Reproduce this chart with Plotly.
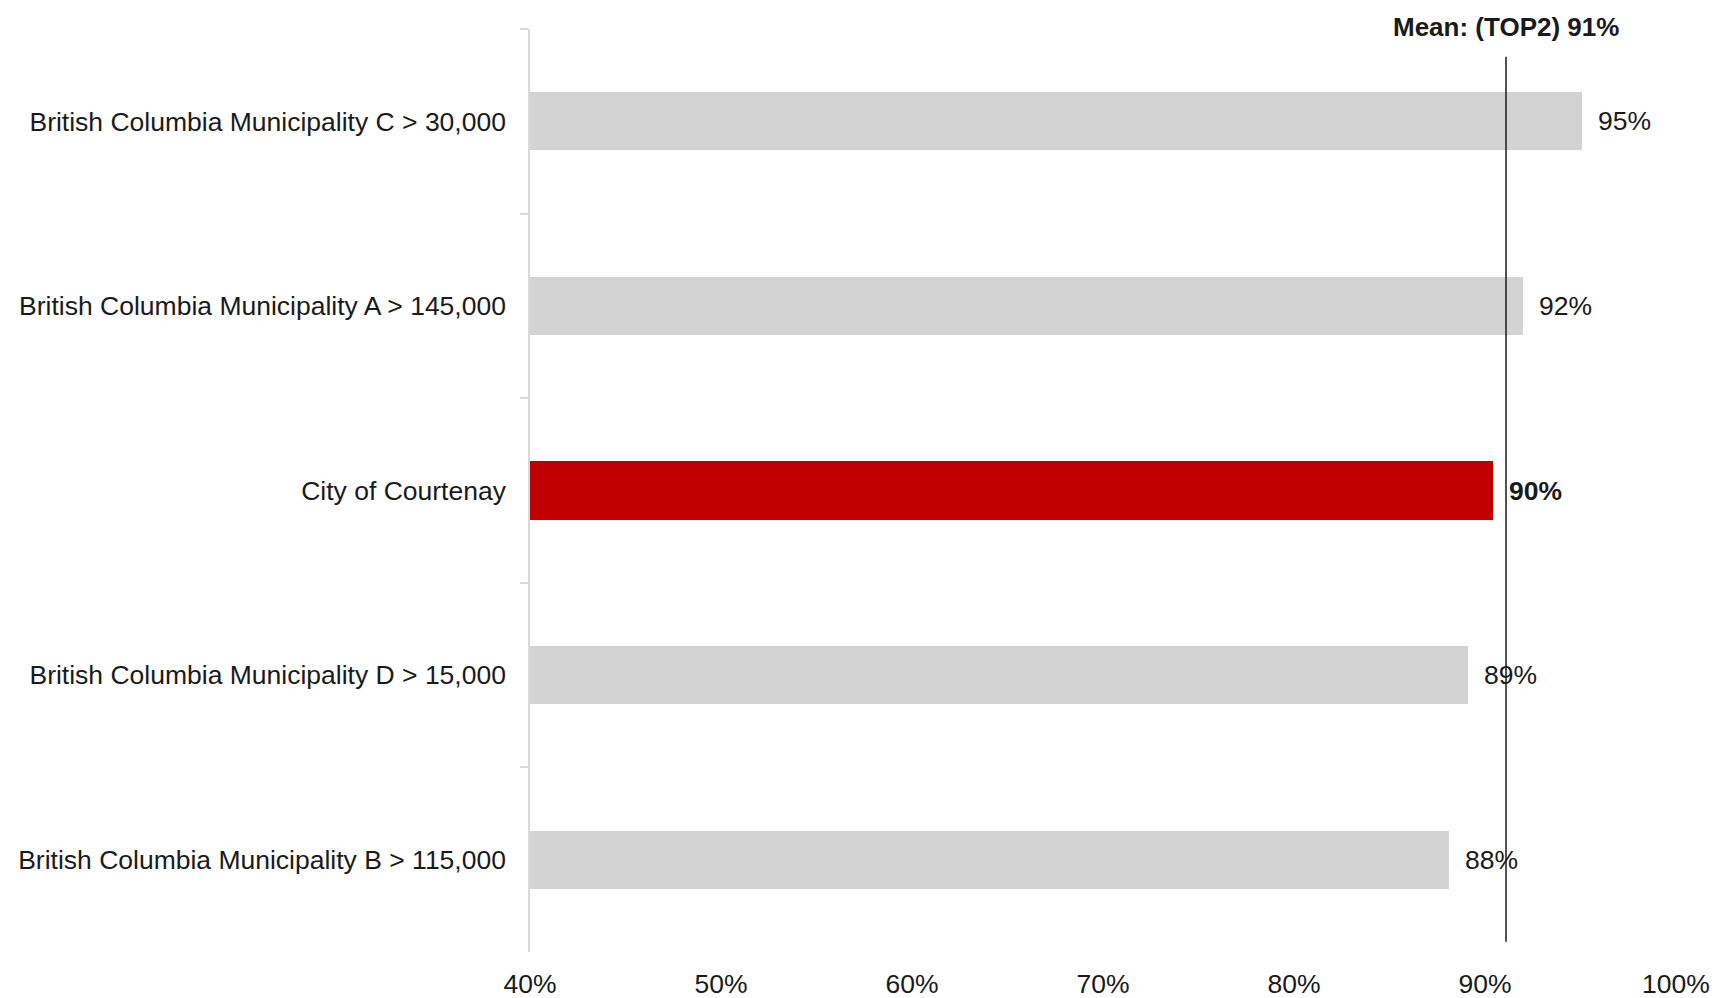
import plotly.graph_objects as go

categories = [
    "British Columbia Municipality C > 30,000",
    "British Columbia Municipality A > 145,000",
    "City of Courtenay",
    "British Columbia Municipality D > 15,000",
    "British Columbia Municipality B > 115,000",
]
values = [95.1, 92.0, 90.4, 89.1, 88.1]
labels = ["95%", "92%", "90%", "89%", "88%"]
highlight = "City of Courtenay"
mean_value = 91.1
mean_label = "Mean: (TOP2) 91%"
x_ticks = [40, 50, 60, 70, 80, 90, 100]
x_ticklabels = ["40%", "50%", "60%", "70%", "80%", "90%", "100%"]

FONT = "Arial, Liberation Sans, sans-serif"
FS = 26.5
colors = ["#c00000" if c == highlight else "#d3d3d3" for c in categories]

fig = go.Figure()
fig.add_trace(go.Bar(
    y=categories, x=values, orientation="h",
    marker=dict(color=colors, line=dict(width=0)),
    width=0.315, base=0, hoverinfo="skip",
))

for c, v, t in zip(categories, values, labels):
    txt = f"<b>{t}</b>" if c == highlight else t
    fig.add_annotation(x=v, y=c, text=txt, showarrow=False, xanchor="left",
                       xshift=14, font=dict(family=FONT, size=FS, color="#1a1a1a"))

fig.add_shape(type="line", xref="x", yref="paper", x0=mean_value, x1=mean_value,
              y0=0.011, y1=0.97, line=dict(color="#1a1a1a", width=1.5))
fig.add_annotation(x=mean_value, xref="x", yref="paper", y=1, yanchor="middle",
                   yshift=2, text=f"<b>{mean_label}</b>", showarrow=False,
                   font=dict(family=FONT, size=26, color="#1a1a1a"))

fig.update_layout(
    width=1715, height=998,
    margin=dict(l=530, r=39, t=29, b=46),
    plot_bgcolor="white", paper_bgcolor="white",
    showlegend=False, bargap=0,
    font=dict(family=FONT, size=FS, color="#1a1a1a"),
)
fig.update_xaxes(range=[40, 100], tickvals=x_ticks, ticktext=x_ticklabels,
                 showgrid=False, zeroline=False, showline=False, automargin=False,
                 ticks="outside", ticklen=8, tickcolor="rgba(0,0,0,0)",
                 tickfont=dict(family=FONT, size=FS, color="#1a1a1a"))
fig.update_yaxes(categoryorder="array", categoryarray=categories, autorange="reversed",
                 showgrid=False, zeroline=False, showline=True, linecolor="#d9d9d9",
                 linewidth=1.5, ticks="outside", tickson="boundaries", ticklen=8,
                 tickcolor="#d9d9d9", tickwidth=1.5, ticklabelstandoff=17,
                 automargin=False,
                 tickfont=dict(family=FONT, size=FS, color="#1a1a1a"))

fig.write_html("out.html")
